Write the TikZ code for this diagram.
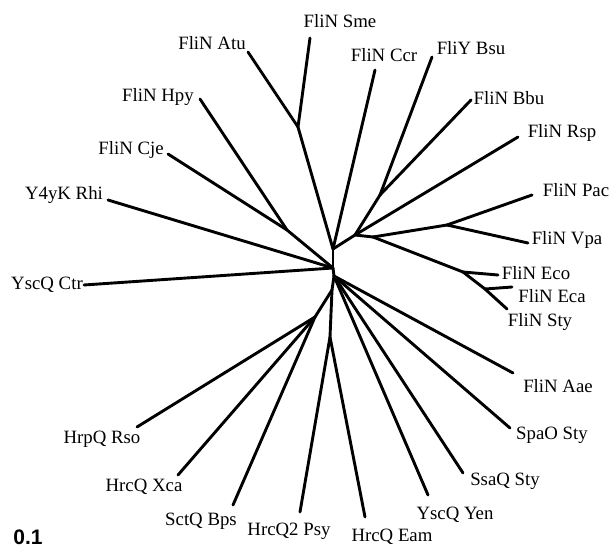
\documentclass[tikz,border=0pt]{standalone}
\usepackage{fontspec}
\setmainfont{Liberation Serif}
\newfontfamily\barfont{Liberation Sans}
\begin{document}
\begin{tikzpicture}[x=1pt,y=-1pt,
  br/.style={line width=2.9pt, line cap=round, line join=round},
  lab/.style={inner sep=0pt, font=\fontsize{18.8}{20}\selectfont}]
\useasboundingbox (0,0) rectangle (611,559);
% internal nodes
\coordinate (N1) at (333,249);
\coordinate (C) at (333,268);
\coordinate (C2) at (334,276);
\coordinate (D) at (332,290);
\coordinate (LL) at (315,317);
\coordinate (PE) at (330,337);
\coordinate (AS) at (298,127);
\coordinate (HC) at (287,230);
\coordinate (N2) at (355,235);
\coordinate (BB) at (380,195);
\coordinate (N3) at (373,237);
\coordinate (PV) at (447,225);
\coordinate (EN) at (463,272);
\coordinate (ES) at (485,289);
% leaves
\coordinate (tSme) at (310,38);
\coordinate (tAtu) at (248,52);
\coordinate (tCcr) at (375,70);
\coordinate (tBsu) at (432,57);
\coordinate (tHpy) at (200,99);
\coordinate (tBbu) at (471,100);
\coordinate (tRsp) at (518,137);
\coordinate (tCje) at (168,154);
\coordinate (tRhi) at (108,200);
\coordinate (tPac) at (532,195);
\coordinate (tVpa) at (528,243);
\coordinate (tCtr) at (84,285);
\coordinate (tEco) at (498,275);
\coordinate (tEca) at (512,287);
\coordinate (tSty) at (507,309);
\coordinate (tAae) at (513,373);
\coordinate (tSpaO) at (510,428);
\coordinate (tSsaQ) at (463,473);
\coordinate (tRso) at (137,427);
\coordinate (tXca) at (178,475);
\coordinate (tYen) at (428,495);
\coordinate (tBps) at (233,505);
\coordinate (tPsy) at (300,512);
\coordinate (tEam) at (365,517);
% branches
\draw[br] (C) -- (N1);
\draw[br] (N1) -- (AS);
\draw[br] (AS) -- (tSme);
\draw[br] (AS) -- (tAtu);
\draw[br] (N1) -- (tCcr);
\draw[br] (N1) -- (N2);
\draw[br] (N2) -- (BB);
\draw[br] (BB) -- (tBsu);
\draw[br] (BB) -- (tBbu);
\draw[br] (N2) -- (tRsp);
\draw[br] (N2) -- (N3);
\draw[br] (N3) -- (PV);
\draw[br] (PV) -- (tPac);
\draw[br] (PV) -- (tVpa);
\draw[br] (N3) -- (EN);
\draw[br] (EN) -- (tEco);
\draw[br] (EN) -- (ES);
\draw[br] (ES) -- (tEca);
\draw[br] (ES) -- (tSty);
\draw[br] (C) -- (HC);
\draw[br] (HC) -- (tHpy);
\draw[br] (HC) -- (tCje);
\draw[br] (C) -- (tRhi);
\draw[br] (C) -- (tCtr);
\draw[br] (C) -- (C2);
\draw[br] (C2) -- (tAae);
\draw[br] (C2) -- (tSpaO);
\draw[br] (C2) -- (tSsaQ);
\draw[br] (C2) -- (tYen);
\draw[br] (C2) -- (D);
\draw[br] (D) -- (LL);
\draw[br] (LL) -- (tRso);
\draw[br] (LL) -- (tXca);
\draw[br] (LL) -- (tBps);
\draw[br] (D) -- (PE);
\draw[br] (PE) -- (tPsy);
\draw[br] (PE) -- (tEam);
% labels
\node[lab] (lSme) at (340,21) {FliN Sme};
\node[lab] (lAtu) at (212,43) {FliN Atu};
\node[lab] (lCcr) at (384,55) {FliN Ccr};
\node[lab] (lBsu) at (471,48) {FliY Bsu};
\node[lab] (lHpy) at (158,97) {FliN Hpy};
\node[lab] (lBbu) at (509,98) {FliN Bbu};
\node[lab] (lRsp) at (562,133) {FliN Rsp};
\node[lab] (lCje) at (131,150) {FliN Cje};
\node[lab] (lRhi) at (64,195) {Y4yK Rhi};
\node[lab] (lPac) at (576,190) {FliN Pac};
\node[lab] (lVpa) at (567,240) {FliN Vpa};
\node[lab] (lCtr) at (47,285) {YscQ Ctr};
\node[lab] (lEco) at (536,273) {FliN Eco};
\node[lab] (lEca) at (552,296) {FliN Eca};
\node[lab] (lSty) at (540,322) {FliN Sty};
\node[lab] (lAae) at (558,386) {FliN Aae};
\node[lab] (lSpaO) at (552,435) {SpaO Sty};
\node[lab] (lSsaQ) at (505,481) {SsaQ Sty};
\node[lab] (lRso) at (102,439) {HrpQ Rso};
\node[lab] (lXca) at (144,487) {HrcQ Xca};
\node[lab] (lYen) at (455,515) {YscQ Yen};
\node[lab] (lBps) at (201,521) {SctQ Bps};
\node[lab] (lPsy) at (289,531) {HrcQ2 Psy};
\node[lab] (lEam) at (392,537) {HrcQ Eam};
\node[inner sep=0pt, font=\barfont\bfseries\fontsize{21}{23}\selectfont] (lbar) at (28,537) {0.1};
\end{tikzpicture}
\end{document}
